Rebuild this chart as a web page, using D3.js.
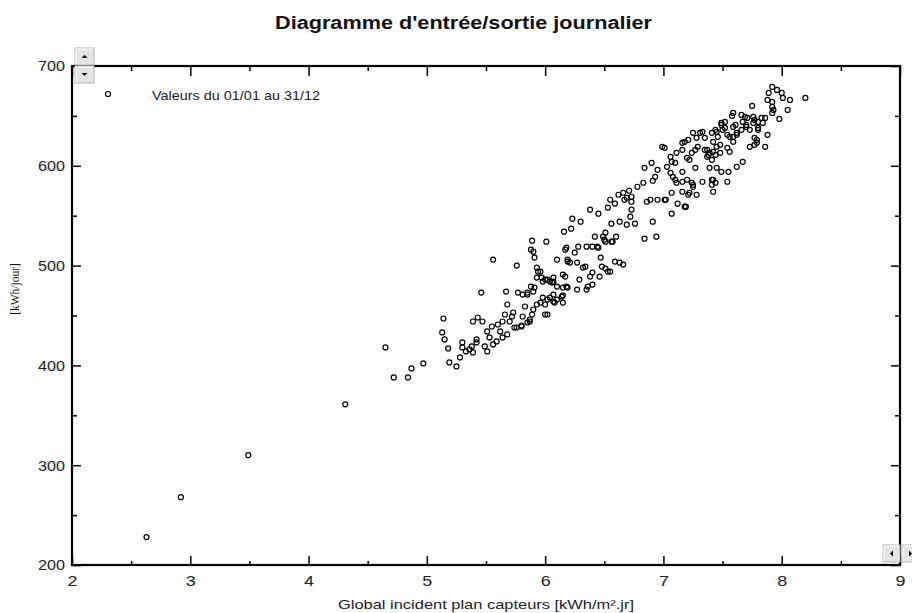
<!DOCTYPE html>
<html><head><meta charset="utf-8">
<script src="https://cdn.jsdelivr.net/npm/d3@7/dist/d3.min.js"></script>
<style>body{margin:0;background:#fff}svg{display:block}</style>
</head><body><svg id="c" width="912" height="613"></svg>
<script>
const chartTitle = "Diagramme d'entrée/sortie journalier";
const xAxisTitle = "Global incident plan capteurs [kWh/m².jr]";
const yAxisTitle = "[kWh/jour]";
const legendLabel = "Valeurs du 01/01 au 31/12";
const xTicks = [2, 3, 4, 5, 6, 7, 8, 9];
const yTicks = [200, 300, 400, 500, 600, 700];
const xMinorTicks = [2.5, 3.5, 4.5, 5.5, 6.5, 7.5, 8.5];
const yMinorTicks = [250, 350, 450, 550, 650];

// [global incident kWh/m².jr, output kWh/jour]
const dailyValues = [
[2.63,228],[2.92,268],[3.49,310],[4.31,361],[4.65,418],[4.72,388],[4.84,388],[4.87,397],[4.97,402],
[5.56,506],[5.76,500],[5.46,473],[5.67,474],[5.14,447],[5.13,433],[5.15,426],[5.18,417],[5.19,403],
[5.25,399],[5.28,408],[5.30,423],[5.30,418],[5.33,414],[5.36,416],[5.38,419],[5.39,413],[5.42,426],
[5.42,423],[5.39,444],[5.43,448],[5.47,444],[5.51,434],[5.49,419],[5.51,414],[5.53,428],[5.55,439],
[5.56,421],[5.59,424],[5.60,441],[5.62,434],[5.64,428],[5.64,444],[5.66,451],[5.68,431],[5.68,461],
[5.70,444],[5.72,449],[5.73,453],[5.76,438],[5.80,439],[5.81,449],[5.83,459],[5.85,471],[5.87,444],
[5.89,451],[5.90,456],[5.93,461],[5.96,463],[6.00,451],[5.77,473],[5.81,471],[5.85,473],[5.88,479],
[5.90,474],[5.91,478],[5.93,488],[5.93,498],[5.96,494],[5.97,488],[5.98,484],[6.02,486],[6.04,484],
[6.06,483],[6.07,488],[6.10,506],[6.15,491],[6.18,479],[5.98,468],[6.02,466],[6.04,468],[6.07,464],
[6.10,466],[6.14,469],[6.15,463],[5.90,514],[6.19,504],
[6.01,524],[6.16,534],[6.22,537],[6.23,547],[6.30,544],[6.38,556],[6.45,552],[6.53,558],[6.55,566],
[6.59,562],[6.62,571],[6.66,573],[6.67,566],[6.69,568],[6.71,575],[6.73,569],[6.73,564],[6.73,556],
[6.72,549],[6.69,541],[6.76,542],[6.63,544],[6.56,542],[6.78,579],[6.83,583],[6.91,585],[6.86,564],
[6.89,566],[6.95,566],[7.02,566],[7.07,573],[7.07,552],[7.11,583],[7.12,562],[7.16,574],[7.19,559],
[7.21,571],[7.25,581],[7.28,571],[7.33,584],[6.91,544],[6.84,527],[6.94,529],[6.17,516],[6.18,518],
[6.19,506],[6.25,513],[6.28,519],[6.35,519],[6.40,519],[6.45,518],[6.42,529],[6.49,529],[6.51,533],
[6.50,526],[6.56,524],[6.60,529],[6.57,524],[6.47,508],[6.48,499],[6.51,497],[6.53,494],[6.46,489],
[6.59,504],[6.63,503],[6.66,501],[6.27,503],[6.32,498],[6.38,489],[6.40,493],[6.29,486],[6.17,489],
[6.10,479],[6.00,486],[6.07,484],[6.15,478],[6.19,478],[6.27,476],[6.35,476],[6.36,479],[6.40,481],
[6.07,471],[6.15,470],[6.08,463],[6.00,461],[6.02,451],
[7.18,559],[7.01,566],[7.22,573],[7.16,584],[7.24,583],[7.25,579],[7.20,586],[7.41,586],[7.42,574],
[7.41,581],[7.44,583],[7.54,584],[6.93,589],[6.84,598],[6.90,603],[6.95,596],[7.03,599],[7.06,593],
[7.08,589],[7.10,586],[7.06,609],[7.07,604],[7.10,603],[7.11,613],[7.01,618],[6.99,619],[7.16,594],
[7.20,608],[7.16,616],[7.16,623],[7.18,624],[7.21,626],[7.24,613],[7.22,606],[7.27,598],[7.27,616],
[7.29,619],[7.31,633],[7.33,634],[7.25,633],[7.28,628],[7.35,628],[7.37,616],[7.39,613],[7.37,609],
[7.41,606],[7.44,611],[7.45,619],[7.45,598],[7.39,598],[7.49,594],[7.55,594],[7.62,599],[7.67,604],
[7.56,614],[7.48,613],[7.42,624],[7.41,633],[7.45,634],[7.49,641],[7.52,638],[7.54,631],[7.56,629],
[7.61,641],[7.62,631],[7.66,636],[7.70,641],[7.73,619],[7.77,621],[7.79,626],[7.80,636],[7.86,619],
[7.88,631],[7.84,643],[7.42,586],
[7.92,679],[7.96,676],[8.00,673],[8.01,668],[8.07,666],[8.20,668],[7.88,666],[7.92,664],[7.92,659],
[7.93,656],[7.92,653],[8.05,656],[7.98,647],[7.75,660],[7.59,653],[7.58,650],[7.66,651],[7.69,649],
[7.71,648],[7.76,649],[7.77,646],[7.83,648],[7.86,648],[7.67,644],[7.76,643],[7.80,644],[7.52,644],
[7.49,643],[7.59,639],[7.70,639],[7.80,638],[7.73,636],[7.62,633],[7.50,636],[7.44,636],[7.46,629],
[7.59,629],[7.77,628],[7.79,623],[7.59,624],[7.48,621],[7.54,618],[7.42,614],[7.35,616],[7.38,611],
[7.89,673],
[5.89,525],[5.88,516],[5.91,508],[5.94,494],[6.21,503],[6.34,499],[6.44,519],[6.51,524],[6.55,494],
[5.87,446],[5.85,443],[5.80,440],[5.74,438]
];

const svg = d3.select("#c");
const plotL = 72, plotR = 900, plotT = 66, plotB = 565;
const x = d3.scaleLinear().domain([2, 9]).range([plotL, plotR]);
const y = d3.scaleLinear().domain([200, 700]).range([plotB, plotT]);
const sans = "Arial, 'Liberation Sans', sans-serif";
const textCol = "#222";

// title
svg.append("text").attr("x", 463.5).attr("y", 29).attr("text-anchor", "middle")
  .attr("font-family", sans).attr("font-weight", "bold").attr("font-size", 18)
  .attr("textLength", 377).attr("lengthAdjust", "spacingAndGlyphs")
  .attr("fill", "#111").text(chartTitle);

function styleAxis(g) {
  g.select(".domain").remove();
  g.selectAll(".tick line").attr("stroke", "#000").attr("stroke-width", 1.5);
  g.selectAll("text").attr("font-family", sans).attr("font-size", 15).attr("fill", textCol);
}
const gxB = svg.append("g").attr("transform", `translate(0,${plotB})`)
  .call(d3.axisBottom(x).tickValues(xTicks).tickFormat(d3.format("d")).tickSizeInner(-9).tickSizeOuter(0).tickPadding(10));
styleAxis(gxB);
gxB.selectAll("text").attr("textLength", 10).attr("lengthAdjust", "spacingAndGlyphs");
svg.append("g").attr("transform", `translate(0,${plotB})`)
  .call(d3.axisBottom(x).tickValues(xMinorTicks).tickFormat("").tickSizeInner(-4).tickSizeOuter(0)).call(styleAxis);
svg.append("g").attr("transform", `translate(0,${plotT})`)
  .call(d3.axisTop(x).tickValues(xTicks).tickFormat("").tickSizeInner(-10).tickSizeOuter(0)).call(styleAxis);
svg.append("g").attr("transform", `translate(0,${plotT})`)
  .call(d3.axisTop(x).tickValues(xMinorTicks).tickFormat("").tickSizeInner(-5).tickSizeOuter(0)).call(styleAxis);

const gyL = svg.append("g").attr("transform", `translate(${plotL},0)`)
  .call(d3.axisLeft(y).tickValues(yTicks).tickFormat(d3.format("d")).tickSizeInner(-9).tickSizeOuter(0).tickPadding(7));
styleAxis(gyL);
gyL.selectAll("text").attr("textLength", 27).attr("lengthAdjust", "spacingAndGlyphs");
svg.append("g").attr("transform", `translate(${plotL},0)`)
  .call(d3.axisLeft(y).tickValues(yMinorTicks).tickFormat("").tickSizeInner(-5).tickSizeOuter(0)).call(styleAxis);
svg.append("g").attr("transform", `translate(${plotR},0)`)
  .call(d3.axisRight(y).tickValues(yTicks).tickFormat("").tickSizeInner(-9).tickSizeOuter(0)).call(styleAxis);
svg.append("g").attr("transform", `translate(${plotR},0)`)
  .call(d3.axisRight(y).tickValues(yMinorTicks).tickFormat("").tickSizeInner(-5).tickSizeOuter(0)).call(styleAxis);

// frame
svg.append("rect").attr("x", plotL).attr("y", plotT).attr("width", plotR - plotL).attr("height", plotB - plotT)
  .attr("fill", "none").attr("stroke", "#000").attr("stroke-width", 2.2);

// points
svg.append("g").selectAll("circle").data(dailyValues).join("circle")
  .attr("cx", d => x(d[0])).attr("cy", d => y(d[1])).attr("r", 2.5)
  .attr("fill", "none").attr("stroke", "#000").attr("stroke-width", 1.2);

// legend
svg.append("circle").attr("cx", 108).attr("cy", 94).attr("r", 2.5)
  .attr("fill", "none").attr("stroke", "#000").attr("stroke-width", 1.2);
svg.append("text").attr("x", 152).attr("y", 100).attr("font-family", sans).attr("font-size", 13)
  .attr("textLength", 168).attr("lengthAdjust", "spacingAndGlyphs").attr("fill", textCol).text(legendLabel);

// axis titles
svg.append("text").attr("x", 486).attr("y", 609).attr("text-anchor", "middle")
  .attr("font-family", sans).attr("font-size", 13.5)
  .attr("textLength", 296).attr("lengthAdjust", "spacingAndGlyphs").attr("fill", textCol).text(xAxisTitle);
svg.append("text").attr("transform", "translate(19,289) rotate(-90)").attr("text-anchor", "middle")
  .attr("font-family", "'Liberation Serif', 'Times New Roman', serif").attr("font-size", 11.5)
  .attr("fill", "#111").text(yAxisTitle);

// scroll buttons
function button(bx, by, bw, bh, dir) {
  const g = svg.append("g");
  g.append("rect").attr("x", bx).attr("y", by).attr("width", bw).attr("height", bh)
    .attr("fill", "#e4e4e4").attr("stroke", "#b5b5b5").attr("stroke-width", 1);
  g.append("path").attr("d", `M${bx+1},${by+bh-1}V${by+1}H${bx+bw-1}`).attr("fill", "none").attr("stroke", "#fff");
  const cx = bx + bw / 2, cy = by + bh / 2;
  let p;
  if (dir === "up") p = `M${cx-3},${cy+1.5}L${cx+3},${cy+1.5}L${cx},${cy-1.5}Z`;
  if (dir === "down") p = `M${cx-3},${cy-1.5}L${cx+3},${cy-1.5}L${cx},${cy+1.5}Z`;
  if (dir === "left") p = `M${cx+1.5},${cy-3}L${cx+1.5},${cy+3}L${cx-1.5},${cy}Z`;
  if (dir === "right") p = `M${cx-1.5},${cy-3}L${cx-1.5},${cy+3}L${cx+1.5},${cy}Z`;
  g.append("path").attr("d", p).attr("fill", "#000");
}
button(75, 48, 19, 17, "up");
button(75, 66, 19, 17, "down");
button(883, 545, 17, 17, "left");
button(902, 545, 17, 17, "right");
</script></body></html>
